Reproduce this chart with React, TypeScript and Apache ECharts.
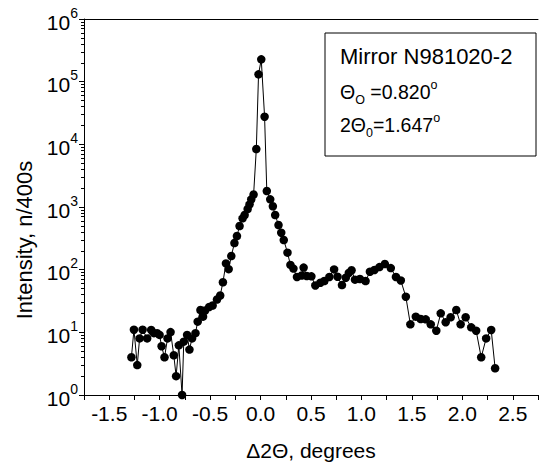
import React, { useEffect, useRef } from 'react';
import * as echarts from 'echarts';

const deltaTwoTheta = [
  -1.28, -1.255, -1.222, -1.199, -1.169, -1.124, -1.084, -1.057, -1.025, -1.001,
  -0.981, -0.952, -0.922, -0.892, -0.86, -0.837, -0.81, -0.778, -0.761, -0.728,
  -0.705, -0.679, -0.645, -0.623, -0.596, -0.57, -0.55, -0.509, -0.475, -0.432,
  -0.4, -0.373, -0.343, -0.316, -0.29, -0.259, -0.234, -0.208, -0.178, -0.158,
  -0.128, -0.109, -0.092, -0.069, -0.042, -0.02, 0.007, 0.04, 0.062, 0.096,
  0.122, 0.145, 0.178, 0.205, 0.23, 0.267, 0.296, 0.326, 0.361, 0.408,
  0.427, 0.458, 0.504, 0.543, 0.593, 0.632, 0.682, 0.729, 0.763, 0.807,
  0.845, 0.875, 0.902, 0.936, 0.985, 1.041, 1.084, 1.129, 1.178, 1.232,
  1.291, 1.342, 1.39, 1.44, 1.485, 1.539, 1.588, 1.637, 1.687, 1.742,
  1.786, 1.835, 1.884, 1.94, 1.983, 2.033, 2.088, 2.137, 2.187, 2.236,
  2.286, 2.325,
];

const intensity = [
  4.0, 11.0, 3.0, 8.0, 11.0, 8.0, 10.9, 9.7, 9.7, 9.1,
  6.0, 4.0, 8.0, 10.1, 4.3, 2.0, 6.2, 1.0, 7.1, 9.1,
  5.3, 8.0, 9.7, 14.8, 22.7, 17.8, 22.3, 25.4, 26.8, 33.4,
  38.7, 62.9, 126, 102, 165, 266, 344, 497, 660, 745,
  929, 1104, 1326, 1582, 8420, 131000, 227000, 27600, 1800, 1326,
  1026, 745, 516, 389, 297, 187, 119, 104, 76.4, 80.7,
  108, 79.2, 78.3, 55.9, 61.9, 65.9, 76.4, 101, 77.2, 56.9,
  74.4, 88.5, 97.7, 69.2, 71, 65.9, 92.8, 98.8, 110, 123,
  106, 76.4, 67.2, 37.0, 13.4, 17.8, 16.3, 16.1, 13.4, 10.6,
  20.1, 14.5, 17.4, 22.7, 13.4, 17.4, 12.0, 10.6, 4.0, 8.0,
  10.9, 2.67,
];

const xMin = -1.75;
const xMax = 2.75;
const xInterval = 0.25;
const yMin = 1;
const yMax = 1e6;
const decades = [0, 1, 2, 3, 4, 5];
const minorMultipliers = [2, 3, 4, 5, 6, 7, 8, 9];

const xTitle = 'Δ2Θ, degrees';
const yTitle = 'Intensity, n/400s';
const legendTitle = 'Mirror N981020-2';
const thetaValue = '=0.820';
const twoThetaValue = '=1.647';

const FONT = "'Liberation Sans', Arial, Helvetica, sans-serif";
const FS = 21;

export default function App() {
  const ref = useRef<HTMLDivElement>(null);

  useEffect(() => {
    if (!ref.current) return;
    const chart = echarts.init(ref.current, undefined, { renderer: 'svg' });
    const data = deltaTwoTheta.map((x, i) => [x, intensity[i]]);
    const minorLog: number[] = [];
    decades.forEach((d) => minorMultipliers.forEach((m) => minorLog.push(d + Math.log10(m))));

    const richLine = {
      m: { fontFamily: FONT, fontSize: 19.5, fill: '#000', lineHeight: 28, verticalAlign: 'middle' },
      sub: { fontFamily: FONT, fontSize: 12.5, fill: '#000', lineHeight: 12, verticalAlign: 'bottom' },
      sup: { fontFamily: FONT, fontSize: 12.5, fill: '#000', lineHeight: 12, verticalAlign: 'top' },
    };

    const option: any = {
      animation: false,
      backgroundColor: '#ffffff',
      textStyle: { fontFamily: FONT },
      grid: { left: 84, right: 1, top: 19, bottom: 71, containLabel: false },
      xAxis: [
        {
          type: 'value',
          min: xMin,
          max: xMax,
          interval: xInterval,
          position: 'bottom',
          name: xTitle,
          nameLocation: 'middle',
          nameGap: 45,
          nameTextStyle: { fontFamily: FONT, fontSize: FS, color: '#000' },
          axisLine: { show: true, onZero: false, lineStyle: { color: '#000', width: 1 } },
          axisTick: { show: true, inside: false, length: 5, lineStyle: { color: '#000', width: 1 } },
          axisLabel: {
            show: true,
            margin: 8,
            fontFamily: FONT,
            fontSize: FS,
            color: '#000',
            showMinLabel: true,
            showMaxLabel: true,
            formatter: (v: number) => {
              const t = v * 2;
              return Math.abs(t - Math.round(t)) < 1e-6 ? v.toFixed(1) : '';
            },
          },
          splitLine: { show: false },
        },
        {
          type: 'value',
          min: xMin,
          max: xMax,
          interval: xInterval,
          position: 'top',
          axisLine: { show: true, onZero: false, lineStyle: { color: '#000', width: 1 } },
          axisTick: { show: false },
          axisLabel: { show: false },
          splitLine: { show: false },
        },
      ],
      yAxis: [
        {
          type: 'log',
          logBase: 10,
          min: yMin,
          max: yMax,
          splitNumber: 6,
          position: 'left',
          axisLine: { show: true, onZero: false, lineStyle: { color: '#000', width: 1 } },
          axisTick: { show: true, inside: false, length: 5, lineStyle: { color: '#000', width: 1 } },
          axisLabel: {
            show: true,
            margin: 6,
            color: '#000',
            formatter: (v: number) => `{b|10}{sup|${Math.round(Math.log10(v))}}`,
            rich: {
              b: { fontFamily: FONT, fontSize: FS, color: '#000', lineHeight: 27, verticalAlign: 'bottom' },
              sup: { fontFamily: FONT, fontSize: 14, color: '#000', lineHeight: 14, verticalAlign: 'top' },
            },
          },
          splitLine: { show: false },
        },
        {
          type: 'value',
          min: 0,
          max: 6,
          position: 'left',
          axisLine: { show: false, onZero: false },
          axisTick: {
            show: true,
            inside: false,
            length: 3,
            customValues: minorLog,
            lineStyle: { color: '#000', width: 1 },
          },
          axisLabel: { show: false },
          splitLine: { show: false },
        },
      ],
      series: [
        {
          type: 'line',
          xAxisIndex: 0,
          yAxisIndex: 0,
          data,
          clip: false,
          symbol: 'circle',
          symbolSize: 8.5,
          itemStyle: { color: '#000' },
          lineStyle: { color: '#000', width: 1 },
        },
      ],
      graphic: [
        {
          type: 'text',
          x: 24,
          y: 240,
          rotation: Math.PI / 2,
          style: {
            text: yTitle,
            fontFamily: FONT,
            fontSize: 22,
            fill: '#000',
            align: 'center',
            verticalAlign: 'middle',
          },
        },
        {
          type: 'rect',
          shape: { x: 325, y: 33, width: 211, height: 123 },
          style: { fill: '#fff', stroke: '#000', lineWidth: 1 },
          z: 100,
        },
        {
          type: 'text',
          x: 340,
          y: 56,
          z: 101,
          style: {
            text: legendTitle,
            fontFamily: FONT,
            fontSize: 22,
            fill: '#000',
            verticalAlign: 'middle',
          },
        },
        {
          type: 'text',
          x: 340,
          y: 92,
          z: 101,
          style: { text: `{m|Θ}{sub|O}{m| ${thetaValue}}{sup|o}`, verticalAlign: 'middle', rich: richLine },
        },
        {
          type: 'text',
          x: 340,
          y: 125,
          z: 101,
          style: { text: `{m|2Θ}{sub|0}{m|${twoThetaValue}}{sup|o}`, verticalAlign: 'middle', rich: richLine },
        },
      ],
    };
    chart.setOption(option);
    return () => chart.dispose();
  }, []);

  return (
    <div
      ref={ref}
      style={{ position: 'fixed', left: 0, top: 0, width: 541, height: 466, background: '#fff' }}
    />
  );
}
